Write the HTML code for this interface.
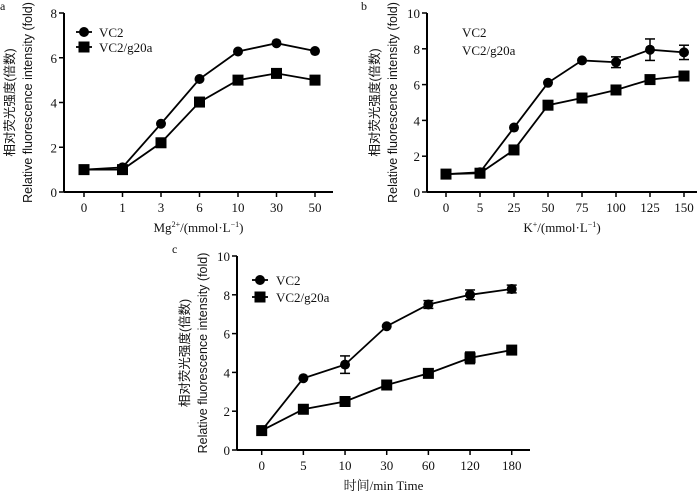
<!DOCTYPE html>
<html><head><meta charset="utf-8"><style>
body{margin:0;background:#fff}
svg text{font-family:"Liberation Serif","Noto Serif CJK SC",serif;fill:#111}
.t{font-size:13px}
.yl{font-family:"Liberation Sans","Noto Sans CJK SC",sans-serif !important;font-size:12.5px}
</style></head><body>
<svg id="s" width="700" height="491" xmlns="http://www.w3.org/2000/svg"></svg>
<script>
const catsA=["0","1","3","6","10","30","50"];
const vc2A=[1,1.1,3.05,5.05,6.28,6.65,6.3];
const g20A=[1,1,2.2,4.02,5,5.3,5];
const errVc2A=[0,0,0,0,0,0,0];
const errG20A=[0,0,0,0,0,0,0];
const ticksA=[0,2,4,6,8];
const catsB=["0","5","25","50","75","100","125","150"];
const vc2B=[1,1.1,3.6,6.1,7.35,7.25,7.95,7.8];
const g20B=[1,1.05,2.35,4.85,5.25,5.7,6.28,6.48];
const errVc2B=[0,0,0,0,0,0.3,0.6,0.4];
const errG20B=[0,0,0,0,0,0,0,0];
const ticksB=[0,2,4,6,8,10];
const catsC=["0","5","10","30","60","120","180"];
const vc2C=[1,3.7,4.4,6.38,7.5,8.0,8.3];
const g20C=[1,2.1,2.5,3.35,3.95,4.75,5.15];
const errVc2C=[0,0,0.45,0,0.2,0.25,0.2];
const errG20C=[0,0,0,0,0,0.3,0.15];
const ticksC=[0,2,4,6,8,10];
const NS="http://www.w3.org/2000/svg";
const svg=document.getElementById('s');
function el(tag,attrs,parent,txt){const e=document.createElementNS(NS,tag);for(const k in attrs)e.setAttribute(k,attrs[k]);if(txt!==undefined)e.textContent=txt;(parent||svg).appendChild(e);return e;}
function chart(p){
 const g=el('g',{});
 
 
 const ymax=p.ticks[p.ticks.length-1];
 const Y=v=>p.y0-(p.y0-p.y1)*v/ymax;
 const X=i=>p.x0+i*p.dx;
 el('line',{x1:p.ax,y1:p.y1,x2:p.ax,y2:p.y0,stroke:'#000','stroke-width':2},g);
 el('line',{x1:p.ax,y1:p.y0,x2:p.axEnd,y2:p.y0,stroke:'#000','stroke-width':2},g);
 p.ticks.forEach(t=>{el('line',{x1:p.ax-5,y1:Y(t),x2:p.ax,y2:Y(t),stroke:'#000','stroke-width':1.5},g);
  const tx=el('text',{x:p.ax-7,y:Y(t)+5,'text-anchor':'end',class:'t'},g,t);
  });
 p.cats.forEach((c,i)=>{el('line',{x1:X(i),y1:p.y0,x2:X(i),y2:p.y0+5,stroke:'#000','stroke-width':1.5},g);
  const tx=el('text',{x:X(i),y:p.y0+20,'text-anchor':'middle',class:'t'},g,c);
  });
 const series=[[p.v1,p.e1,'circle','vc2'],[p.v2,p.e2,'square','vc2-g20a']];
 series.forEach(([vals,errs,shape,nm])=>{
  const pts=vals.map((v,i)=>X(i)+','+Y(v)).join(' ');
  const l=el('polyline',{points:pts,fill:'none',stroke:'#000','stroke-width':1.8},g);
  
  vals.forEach((v,i)=>{
   if(errs[i]>0){const a=Y(v+errs[i]),b=Y(v-errs[i]);
    el('line',{x1:X(i),y1:a,x2:X(i),y2:b,stroke:'#000','stroke-width':1.5},g);
    el('line',{x1:X(i)-5,y1:a,x2:X(i)+5,y2:a,stroke:'#000','stroke-width':1.5},g);
    el('line',{x1:X(i)-5,y1:b,x2:X(i)+5,y2:b,stroke:'#000','stroke-width':1.5},g);}
   let m;
   if(shape==='circle')m=el('circle',{cx:X(i),cy:Y(v),r:5,fill:'#000'},g);
   else m=el('rect',{x:X(i)-5.5,y:Y(v)-5.5,width:11,height:11,fill:'#000'},g);
   
  });
 });
 const lb=el('text',{x:p.lx,y:p.ly,style:'font-size:12px'},g,p.letter);
 
 const xt=el('text',{x:(p.ax+p.axEnd)/2,y:p.y0+40,'text-anchor':'middle',style:'font-size:13px'},g);
 xt.innerHTML=p.xlabel;
 
 const yc=(p.y0+p.y1)/2;
 const y1=el('text',{x:p.yt1,y:yc,'text-anchor':'middle',class:'yl',transform:`rotate(-90 ${p.yt1} ${yc})`},g,'相对荧光强度(倍数)');
 
 const y2=el('text',{x:p.yt2,y:yc,'text-anchor':'middle',class:'yl',transform:`rotate(-90 ${p.yt2} ${yc})`},g,'Relative fluorescence intensity (fold)');
 
 [['VC2',0],['VC2/g20a',1]].forEach(([t,k])=>{
  const yy=p.legY+k*p.legDy;
  if(p.legMarkers){ if(k===0)el('circle',{cx:p.legX,cy:yy,r:5,fill:'#000'},g);else el('rect',{x:p.legX-5.5,y:yy-5.5,width:11,height:11,fill:'#000'},g);
   el('line',{x1:p.legX-8,y1:yy,x2:p.legX+8,y2:yy,stroke:'#000','stroke-width':1.8},g);}
  const lt=el('text',{x:p.legTX,y:yy+5,style:'font-size:13px'},g,t);
  
 });
}
chart({name:'chart-a',cats:catsA,v1:vc2A,v2:g20A,e1:errVc2A,e2:errG20A,ticks:ticksA,ax:64,axEnd:333,y0:192,y1:13,x0:84,dx:38.5,
 letter:'a',lx:0,ly:10,xlabel:'Mg<tspan dy="-5" style="font-size:8px">2+</tspan><tspan dy="5">/(mmol·L</tspan><tspan dy="-5" style="font-size:8px">−1</tspan><tspan dy="5">)</tspan>',
 yt1:14,yt2:32,legX:84,legY:32,legDy:15,legTX:99,legMarkers:true});
chart({name:'chart-b',cats:catsB,v1:vc2B,v2:g20B,e1:errVc2B,e2:errG20B,ticks:ticksB,ax:427,axEnd:697,y0:192,y1:13,x0:446,dx:34,
 letter:'b',lx:361,ly:10,xlabel:'K<tspan dy="-5" style="font-size:8px">+</tspan><tspan dy="5">/(mmol·L</tspan><tspan dy="-5" style="font-size:8px">−1</tspan><tspan dy="5">)</tspan>',
 yt1:379,yt2:397,legX:446,legY:32,legDy:18,legTX:462,legMarkers:false});
chart({name:'chart-c',cats:catsC,v1:vc2C,v2:g20C,e1:errVc2C,e2:errG20C,ticks:ticksC,ax:237,axEnd:530,y0:450,y1:256,x0:261.7,dx:41.67,
 letter:'c',lx:172,ly:253,xlabel:'时间/min Time',
 yt1:189,yt2:207,legX:260,legY:280,legDy:17,legTX:276,legMarkers:true});
</script>
</body></html>
